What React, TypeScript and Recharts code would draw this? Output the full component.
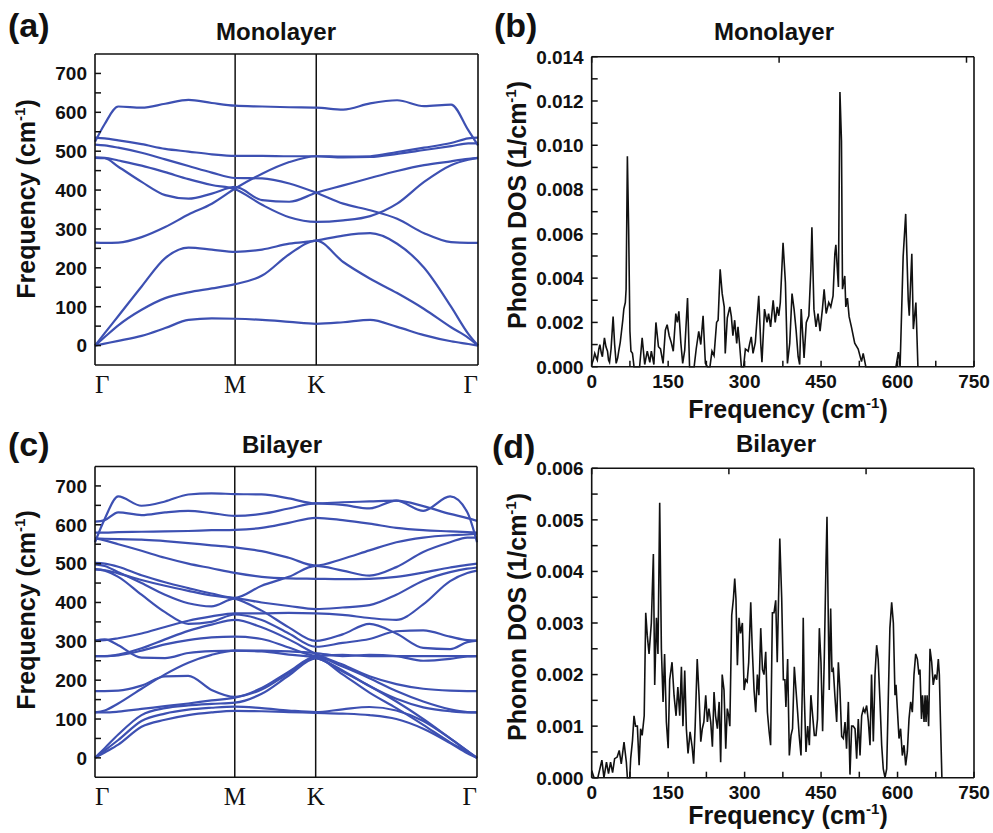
import React from "react"
import { LineChart, Line, XAxis, YAxis, ReferenceLine } from "recharts"

// k-path (Γ-M-K-Γ, hexagonal lengths) shared by both band panels
const kPath = [0, 0.04, 0.096, 0.192, 0.289, 0.385, 0.481, 0.577, 0.688, 0.8, 0.911, 1.022, 1.133, 1.244, 1.355, 1.466, 1.537, 1.577]
const symPoints = [0, 0.577, 0.911, 1.577]
const symLabels = ["Γ", "M", "K", "Γ"]

// monolayer branches, cm-1 at each kPath point
const monoBands = [
  [0, 5, 12, 25, 45, 66, 70, 69, 66, 61, 56, 60, 66, 48, 27, 11, 4, 0],
  [0, 22, 52, 92, 122, 137, 147, 158, 180, 235, 270, 215, 172, 135, 94, 47, 20, 0],
  [0, 32, 76, 152, 225, 252, 247, 241, 247, 262, 270, 283, 289, 262, 200, 100, 30, 0],
  [265, 264, 265, 279, 305, 337, 365, 404, 442, 472, 487, 486, 487, 498, 509, 521, 533, 535],
  [483, 482, 460, 421, 387, 378, 391, 408, 374, 370, 393, 412, 431, 449, 464, 474, 480, 483],
  [484, 483, 476, 463, 446, 428, 413, 402, 362, 330, 318, 322, 333, 365, 421, 464, 478, 483],
  [517, 515, 509, 496, 479, 462, 445, 431, 430, 417, 393, 365, 348, 326, 289, 266, 264, 264],
  [535, 533, 528, 518, 506, 499, 492, 488, 488, 487, 487, 484, 485, 493, 503, 513, 520, 520],
  [524, 570, 615, 612, 622, 632, 624, 617, 615, 613, 612, 607, 623, 631, 616, 620, 554, 515],
]

// bilayer branches
const biBands = [
  [555, 615, 673, 649, 660, 678, 681, 679, 678, 668, 655, 658, 660, 662, 636, 673, 632, 555],
  [608, 612, 632, 625, 632, 636, 630, 623, 628, 642, 655, 651, 642, 662, 648, 628, 617, 610],
  [580, 580, 581, 582, 583, 584, 586, 587, 592, 605, 618, 612, 603, 592, 586, 583, 581, 580],
  [565, 564, 563, 562, 558, 553, 547, 542, 532, 515, 495, 512, 534, 555, 567, 573, 575, 577],
  [565, 560, 550, 533, 515, 500, 488, 476, 466, 462, 461, 460, 461, 466, 477, 490, 497, 500],
  [502, 500, 492, 470, 452, 437, 423, 412, 443, 466, 494, 482, 469, 491, 530, 555, 567, 567],
  [498, 494, 478, 450, 420, 398, 390, 410, 400, 391, 383, 387, 393, 420, 456, 478, 487, 490],
  [486, 482, 466, 420, 375, 345, 350, 369, 355, 320, 286, 296, 306, 326, 328, 312, 303, 302],
  [485, 483, 475, 458, 443, 430, 418, 410, 379, 336, 301, 318, 345, 320, 283, 280, 298, 302],
  [302, 303, 308, 320, 337, 353, 364, 372, 372, 373, 372, 368, 360, 355, 395, 455, 476, 482],
  [302, 305, 290, 258, 257, 270, 275, 276, 276, 274, 270, 262, 265, 262, 250, 255, 261, 262],
  [262, 262, 264, 276, 292, 303, 310, 312, 306, 284, 263, 265, 262, 262, 262, 262, 262, 262],
  [262, 262, 266, 282, 305, 327, 343, 355, 336, 305, 268, 240, 210, 190, 178, 173, 172, 172],
  [172, 172, 173, 186, 210, 211, 175, 157, 180, 222, 260, 235, 205, 172, 145, 125, 118, 117],
  [117, 122, 140, 178, 215, 245, 265, 276, 274, 266, 258, 225, 185, 152, 130, 120, 117, 117],
  [117, 117, 119, 126, 133, 140, 148, 155, 176, 218, 258, 215, 168, 128, 85, 40, 15, 0],
  [0, 25, 60, 110, 128, 135, 139, 142, 165, 212, 256, 222, 185, 145, 100, 50, 18, 0],
  [0, 19, 46, 95, 114, 124, 129, 132, 128, 122, 118, 125, 131, 122, 95, 50, 18, 0],
  [0, 14, 34, 80, 98, 110, 117, 121, 120, 118, 116, 114, 110, 100, 75, 38, 12, 0],
]

const bandTicks = [0, 50, 100, 150, 200, 250, 300, 350, 400, 450, 500, 550, 600, 650, 700]
const bandLabels = [0, 100, 200, 300, 400, 500, 600, 700]

// phonon DOS, monolayer
const monoFreq = [
  0, 3, 6, 9, 11, 14, 16, 19, 21, 23, 25, 28, 31, 33, 35, 38, 42, 45, 48, 51,
  53, 56, 58, 61, 63, 66, 67.5, 70, 72.5, 75, 77, 80, 83, 94, 99, 104, 109, 114, 117, 122,
  126, 131, 135, 140, 144.5, 148, 152, 156, 160, 165, 168, 171, 175, 178.5, 182.5, 188, 192, 201, 205, 210,
  214, 218.5, 223, 227, 232, 236, 240, 245, 248, 252, 256, 260, 262, 266, 271, 274, 277, 280.5, 284.5, 287,
  290, 293.6, 298, 301.5, 307, 310, 313, 316.5, 321, 327.7, 331.6, 334, 339, 344, 347, 351, 356, 360, 364, 367,
  370, 375.4, 380, 384, 388.5, 393, 397, 401, 405, 408, 411, 414.6, 416.6, 421, 426, 430, 432, 436, 440, 444,
  448, 452.6, 456, 460, 465, 469, 473.5, 477, 479, 484, 487, 490, 492, 496.5, 498.5, 501.7, 505, 509.5, 516, 522.8,
  529.3, 532.6, 537.8, 597, 601.6, 605, 611, 616, 621, 623, 628, 631, 636, 640,
]
const monoDos = [
  0.0001, 0.0003, 0.0006, 0.0004, 0.0003, 0.0008, 0.001, 0.0006, 0.00045, 0.0009, 0.0013, 0.0009, 0.0007, 0.0003, 0.0002, 0.0008, 0.00226, 0.001, 0.00015, 0.0004,
  0.0007, 0.0011, 0.0015, 0.0021, 0.0026, 0.0029, 0.0035, 0.0095, 0.0062, 0.0016, 0.0007, 0.0006, 0, 0, 0.0013, 0.0001, 0.0007, 0.0002, 0.0007, 0.0001,
  0.002, 0.0009, 0.0008, 0.00015, 0.00165, 0.0019, 0.0014, 0.0011, 0.0007, 0.0024, 0.002, 0.0025, 0.00105, 0.00015, 0.00075, 0.0031, 0, 0, 0.0008, 0.0016,
  0.001, 0.0023, 0.00015, 0, 0, 0.0007, 0.0005, 0.002, 0.0021, 0.0044, 0.0033, 0.0027, 0.0006, 0.0022, 0.0027, 0.00226, 0.0014, 0.0021, 0.00105, 0.0018,
  0.00105, 0, 0, 0.0008, 0.0007, 0.00105, 0.00135, 0.0006, 0.0011, 0.0032, 0.00105, 0.0002, 0.0026, 0.002, 0.0024, 0.0018, 0.003, 0.002, 0.0027, 0.0023,
  0.0029, 0.0056, 0.0038, 0.00015, 0.00105, 0.0033, 0.0026, 0.00165, 0.00045, 0.0001, 0.0026, 0.0012, 0.0004, 0.002, 0.0023, 0.0044, 0.0063, 0.0026, 0.0018, 0.0024,
  0.0016, 0.0026, 0.0035, 0.0024, 0.0029, 0.0027, 0.0032, 0.0051, 0.0055, 0.0036, 0.0124, 0.0102, 0.0035, 0.0041, 0.0027, 0.0031, 0.00226, 0.0018, 0.00106, 0.0008,
  0.00023, 0.0006, 0, 0, 0.00066, 0, 0.00497, 0.0069, 0.003, 0.0023, 0.0051, 0.0017, 0.0029, 0,
]

// phonon DOS, bilayer
const biFreq = [
  0, 4.6, 12, 20, 24, 29, 33, 37, 41, 45, 50, 54, 58, 63.4, 68, 70, 74.6, 76.5, 80, 83,
  86, 89.6, 93, 96, 99, 103, 106, 109, 112.5, 117, 121, 123.6, 127, 130, 133.4, 136.7, 140, 143, 146.5, 150,
  153, 157.6, 161.5, 165.5, 169, 172.7, 176, 179, 182.5, 185.7, 189, 193, 197, 200, 203, 207, 210.6, 214, 217, 220,
  223.7, 227, 230, 233.5, 236.8, 240, 243, 246.6, 250, 253, 256, 259.6, 263, 266, 268.8, 271, 274.7, 278, 280.6, 283,
  285.8, 289, 292, 295.6, 299, 302, 305, 308, 312, 315, 318.5, 321.8, 325, 328, 331.6, 335, 338, 341.4, 344.7, 348,
  351, 354.5, 357.7, 361, 364, 369, 372.7, 376, 379, 381, 384.4, 387.7, 391, 394, 397.5, 400.8, 404, 407, 410.6, 413.9,
  415, 417, 420.4, 423.7, 427, 430, 433.5, 436.8, 440, 443, 446.6, 449.8, 453, 456.4, 459.7, 461.6, 464, 466, 468.8, 471.4,
  474, 477, 480.6, 483.9, 487, 490.4, 493.7, 497, 500, 503.5, 506.7, 510, 513, 516.6, 519.8, 523, 526.4, 529.6, 533, 536,
  539.4, 542.7, 546, 549, 552.5, 555.8, 559, 562, 565.6, 568.9, 572, 575.4, 578.7, 582, 585, 588.5, 591.8, 595, 597, 599.6,
  602.9, 606, 609.4, 612.7, 616, 619.2, 622.5, 625.8, 629, 632.3, 635.6, 638.9, 642, 644, 647, 649, 652, 654, 655.9, 658,
  661, 663.7, 667, 670, 673.5, 676.8, 680, 682, 684.6, 687,
]
const biDos = [
  0.00014, 0, 0, 0.00034, 0, 0.0003, 0.00008, 0.0003, 0.0001, 0.00037, 0.0004, 0.00053, 0.00027, 0.00069, 0.0003, 0, 0, 0.00037, 0.00072, 0.0012,
  0.001, 0.001, 0.00024, 0.00095, 0.00082, 0.0012, 0.0032, 0.00276, 0.0024, 0.003, 0.00434, 0.0018, 0.0031, 0.0024, 0.00533, 0.0025, 0.00147, 0.0024, 0.00108, 0.00057,
  0.0019, 0.00224, 0.0016, 0.0012, 0.00176, 0.0012, 0.00215, 0.001, 0.00208, 0.00095, 0.00047, 0.00089, 0.0006, 0.00027, 0.001, 0.0023, 0.0016, 0.0007, 0.00095, 0.00108,
  0.0016, 0.00108, 0.00134, 0.00108, 0.0006, 0.00166, 0.0012, 0.00095, 0.00147, 0.0003, 0.002, 0.0017, 0.00056, 0.00134, 0.0012, 0.001, 0.00315, 0.00347, 0.00386, 0.00347,
  0.00218, 0.0031, 0.0028, 0.003, 0.0017, 0.0019, 0.00186, 0.00224, 0.0034, 0.0025, 0.0017, 0.00127, 0.002, 0.0016, 0.0029, 0.0021, 0.002, 0.00244, 0.00127, 0.0009,
  0.00063, 0.0032, 0.0032, 0.00344, 0.00224, 0.00464, 0.0035, 0.0019, 0.0019, 0.00137, 0.0023, 0.00043, 0.00082, 0.00095, 0.00215, 0.0017, 0.00127, 0.00082, 0.00043, 0.0021,
  0.0031, 0.0016, 0.0005, 0.001, 0.00063, 0.0016, 0.0012, 0.00082, 0.00082, 0.00114, 0.0029, 0.00224, 0.0009, 0.00237, 0.0042, 0.00506, 0.0032, 0.0017, 0.00328, 0.00205,
  0.0021, 0.0016, 0.00108, 0.00224, 0.0017, 0.0008, 0.00076, 0.00108, 0.00056, 0.00147, 0.00006, 0.001, 0.001, 0.00095, 0.00037, 0.00114, 0.00043, 0.0012, 0.00134, 0.00127,
  0.0014, 0.0011, 0.00063, 0.002, 0.0007, 0.002, 0.00257, 0.0023, 0.00147, 0.00063, 0.00017, 0, 0.00017, 0.0016, 0.0029, 0.0034, 0.003, 0.0016, 0.0018, 0.00134,
  0.00076, 0.00095, 0.00043, 0.00063, 0.00024, 0.0005, 0.00114, 0.00147, 0.00127, 0.002, 0.0024, 0.0023, 0.002, 0.0021, 0.00114, 0.0016, 0.00108, 0.0016, 0.00108, 0.0016,
  0.001, 0.0025, 0.00224, 0.0018, 0.002, 0.0019, 0.0023, 0.002, 0.00095, 0,
]

const freqTicks = [0, 75, 150, 225, 300, 375, 450, 525, 600, 675, 750]
const freqLabels = [0, 150, 300, 450, 600, 750]
const monoDosTicks = [0, 0.001, 0.002, 0.003, 0.004, 0.005, 0.006, 0.007, 0.008, 0.009, 0.01, 0.011, 0.012, 0.013, 0.014]
const monoDosLabels = [0, 0.002, 0.004, 0.006, 0.008, 0.01, 0.012, 0.014]
const biDosTicks = [0, 0.0005, 0.001, 0.0015, 0.002, 0.0025, 0.003, 0.0035, 0.004, 0.0045, 0.005, 0.0055, 0.006]
const biDosLabels = [0, 0.001, 0.002, 0.003, 0.004, 0.005, 0.006]

const FONT = "'Liberation Sans', Arial, Helvetica, sans-serif"
const SERIF = "'Liberation Serif', 'Times New Roman', serif"
const BAND_COLOR = "#3d50b2"
const INK = "#111"
const frame = { stroke: INK, strokeWidth: 1.6 }

type Side = "left" | "right" | "top" | "bottom"

// inward tick marks drawn by hand, labels only on the major values
function axisTick(side: Side, labels: number[], fmt: (v: number) => string) {
  const len = 6
  return (props: any) => {
    const { x, y, payload } = props
    const v = payload.value as number
    const show = labels.some((l) => Math.abs(l - v) < 1e-9)
    let line
    if (side === "left") line = <line x1={x} y1={y} x2={x + len} y2={y} stroke={INK} strokeWidth={1.5} />
    else if (side === "right") line = <line x1={x - len} y1={y} x2={x} y2={y} stroke={INK} strokeWidth={1.5} />
    else if (side === "top") line = <line x1={x} y1={y} x2={x} y2={y + len} stroke={INK} strokeWidth={1.5} />
    else line = <line x1={x} y1={y - len} x2={x} y2={y} stroke={INK} strokeWidth={1.5} />
    return (
      <g>
        {line}
        {show && side === "left" && (
          <text x={x - 8} y={y} dy="0.36em" textAnchor="end" fontFamily={FONT} fontWeight="bold" fontSize={19} fill={INK}>
            {fmt(v)}
          </text>
        )}
        {show && side === "bottom" && (
          <text x={x} y={y + 21} textAnchor="middle" fontFamily={FONT} fontWeight="bold" fontSize={19} fill={INK}>
            {fmt(v)}
          </text>
        )}
      </g>
    )
  }
}

const symTick = (props: any) => {
  const { x, y, payload } = props
  const i = symPoints.indexOf(payload.value)
  const anchor = i === 0 ? "start" : i === symPoints.length - 1 ? "end" : "middle"
  return (
    <text x={x} y={y + 28} textAnchor={anchor} fontFamily={SERIF} fontSize={25} fill={INK}>
      {symLabels[i]}
    </text>
  )
}

const noLabel: number[] = []
const fmtInt = (v: number) => String(v)
const fmtDos = (v: number) => v.toFixed(3)

// axes are 1px thick so Recharts still draws them; margins are the plot box minus that pixel
function BandPanel({ bands, top, box }: { bands: number[][]; top: number; box: number[] }) {
  const [pt, pr, pb, pl] = box
  return (
    <div style={{ position: "absolute", left: 0, top }}>
      <LineChart width={490} height={400} margin={{ top: pt - 1, right: pr - 1, bottom: pb - 1, left: pl - 1 }}>
        <XAxis dataKey="k" type="number" domain={[0, 1.577]} ticks={symPoints} interval={0} height={1}
          tickSize={0} tickMargin={0} tickLine={false} axisLine={frame} tick={symTick} />
        <XAxis xAxisId="top" orientation="top" type="number" domain={[0, 1.577]} height={1}
          tick={false} tickLine={false} axisLine={frame} />
        <YAxis type="number" domain={[-50, 750]} ticks={bandTicks} interval={0} width={1}
          tickSize={0} tickMargin={0} tickLine={false} axisLine={frame} tick={axisTick("left", bandLabels, fmtInt)} />
        <YAxis yAxisId="right" orientation="right" type="number" domain={[-50, 750]} ticks={bandTicks} interval={0} width={1}
          tickSize={0} tickMargin={0} tickLine={false} axisLine={frame} tick={axisTick("right", noLabel, fmtInt)} />
        <ReferenceLine x={symPoints[1]} stroke={INK} strokeWidth={1.5} />
        <ReferenceLine x={symPoints[2]} stroke={INK} strokeWidth={1.5} />
        {bands.map((b, j) => (
          <Line key={j} data={kPath.map((k, i) => ({ k, f: b[i] }))} dataKey="f" type="monotone"
            stroke={BAND_COLOR} strokeWidth={2.2} dot={false} activeDot={false} isAnimationActive={false} />
        ))}
      </LineChart>
    </div>
  )
}

function DosPanel({ freq, dos, top, box, yMax, yTicks, yLabels }: any) {
  const [pt, pr, pb, pl] = box
  const data = freq.map((f: number, i: number) => ({ f, d: dos[i] }))
  return (
    <div style={{ position: "absolute", left: 490, top }}>
      <LineChart width={503} height={400} data={data} margin={{ top: pt - 1, right: pr - 1, bottom: pb - 1, left: pl - 1 }}>
        <XAxis dataKey="f" type="number" domain={[0, 750]} ticks={freqTicks} interval={0} height={1}
          tickSize={0} tickMargin={0} tickLine={false} axisLine={frame} tick={axisTick("bottom", freqLabels, fmtInt)} />
        <XAxis xAxisId="top" orientation="top" type="number" domain={[0, 750]} ticks={freqTicks} interval={0} height={1}
          tickSize={0} tickMargin={0} tickLine={false} axisLine={frame} tick={axisTick("top", noLabel, fmtInt)} />
        <YAxis type="number" domain={[0, yMax]} ticks={yTicks} interval={0} width={1}
          tickSize={0} tickMargin={0} tickLine={false} axisLine={frame} tick={axisTick("left", yLabels, fmtDos)} />
        <YAxis yAxisId="right" orientation="right" type="number" domain={[0, yMax]} ticks={yTicks} interval={0} width={1}
          tickSize={0} tickMargin={0} tickLine={false} axisLine={frame} tick={axisTick("right", noLabel, fmtDos)} />
        <Line dataKey="d" type="linear" stroke={INK} strokeWidth={1.6} dot={false} activeDot={false} isAnimationActive={false} />
      </LineChart>
    </div>
  )
}

function UnitText({ x, y, rotate, parts }: { x: number; y: number; rotate?: boolean; parts: string[] }) {
  return (
    <text transform={`translate(${x},${y})${rotate ? " rotate(-90)" : ""}`} textAnchor="middle" fontSize={25}>
      {parts[0]}
      <tspan dy={-10} fontSize={15}>{parts[1]}</tspan>
      <tspan dy={10}>{parts[2]}</tspan>
    </text>
  )
}

const freqLabelParts = ["Frequency (cm", "-1", ")"]
const dosLabelParts = ["Phonon DOS (1/cm", "-1", ")"]

export default function App() {
  return (
    <div style={{ position: "absolute", left: 0, top: 0, width: 993, height: 833, background: "#fff", overflow: "hidden" }}>
      <BandPanel bands={monoBands} top={0} box={[54, 12, 35, 95]} />
      <BandPanel bands={biBands} top={420} box={[46.5, 13, 42.7, 95]} />
      <DosPanel freq={monoFreq} dos={monoDos} top={0} yMax={0.014} yTicks={monoDosTicks} yLabels={monoDosLabels}
        box={[56.7, 19, 33.3, 101.7]} />
      <DosPanel freq={biFreq} dos={biDos} top={420} yMax={0.006} yTicks={biDosTicks} yLabels={biDosLabels}
        box={[48.3, 19, 42.3, 101.7]} />
      <svg width={993} height={833} style={{ position: "absolute", left: 0, top: 0, pointerEvents: "none" }}
        fontFamily={FONT} fontWeight="bold" fill={INK}>
        <text x={8} y={37} fontSize={34}>(a)</text>
        <text x={276} y={40} fontSize={24} textAnchor="middle">Monolayer</text>
        <text x={494} y={37} fontSize={34}>(b)</text>
        <text x={774} y={40} fontSize={24} textAnchor="middle">Monolayer</text>
        <text x={8} y={456} fontSize={34}>(c)</text>
        <text x={282} y={453} fontSize={24} textAnchor="middle">Bilayer</text>
        <text x={492} y={458} fontSize={34}>(d)</text>
        <text x={776} y={452} fontSize={24} textAnchor="middle">Bilayer</text>
        <UnitText x={35} y={199} rotate parts={freqLabelParts} />
        <UnitText x={35} y={610} rotate parts={freqLabelParts} />
        <UnitText x={526} y={205} rotate parts={dosLabelParts} />
        <UnitText x={526} y={617} rotate parts={dosLabelParts} />
        <UnitText x={788} y={418} parts={freqLabelParts} />
        <UnitText x={788} y={824} parts={freqLabelParts} />
      </svg>
    </div>
  )
}
